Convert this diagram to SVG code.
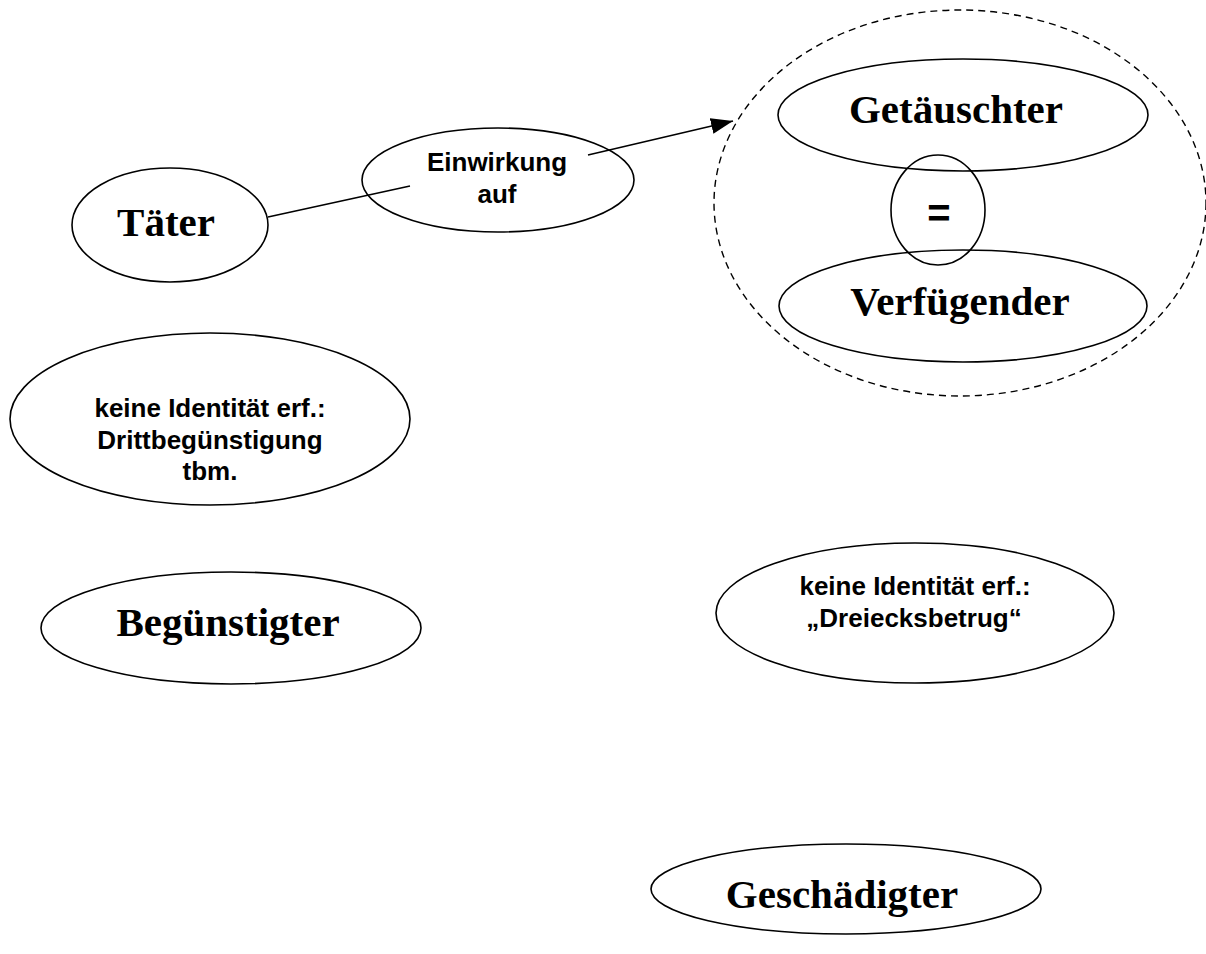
<svg xmlns="http://www.w3.org/2000/svg" width="1206" height="954" viewBox="0 0 1206 954">
<defs>
<style>
.e{fill:none;stroke:#000;stroke-width:1.6}
.d{fill:none;stroke:#000;stroke-width:1.4;stroke-dasharray:7 5}
.big{font-family:"Liberation Serif","Times New Roman",serif;font-weight:bold;font-size:41px;text-anchor:middle;fill:#000}
.sm{font-family:"Liberation Sans",Arial,sans-serif;font-weight:bold;font-size:26px;text-anchor:middle;fill:#000}
.c{stroke:#000;stroke-width:1.6;fill:none}
</style>
<marker id="ah" markerWidth="22" markerHeight="16" refX="22" refY="8" orient="auto" markerUnits="userSpaceOnUse" viewBox="0 0 22 16"><path d="M0,0 L22,8 L0,16 z" fill="#000"/></marker>
</defs>
<rect width="1206" height="954" fill="#fff"/>
<g id="connectors">
<line class="c" x1="268" y1="217" x2="410" y2="186"/>
<line class="c" x1="588" y1="155" x2="733" y2="121" marker-end="url(#ah)"/>
</g>
<g id="gruppe">
<ellipse class="d" cx="960" cy="203" rx="246" ry="193"/>
</g>
<g id="taeter">
<ellipse class="e" cx="170" cy="225" rx="98" ry="57"/>
<text class="big" x="166" y="236">Täter</text>
</g>
<g id="einwirkung">
<ellipse class="e" cx="498" cy="180" rx="136" ry="52"/>
<text class="sm" x="497" y="171">Einwirkung</text>
<text class="sm" x="497" y="203">auf</text>
</g>
<g id="getaeuschter">
<ellipse class="e" cx="963" cy="115" rx="185" ry="56"/>
<text class="big" x="956" y="123">Getäuschter</text>
</g>
<g id="gleich">
<ellipse class="e" cx="938" cy="210" rx="47" ry="55"/>
<text class="sm" x="939" y="227" style="font-size:40px">=</text>
</g>
<g id="verfuegender">
<ellipse class="e" cx="963" cy="306" rx="184" ry="56"/>
<text class="big" x="960" y="315">Verfügender</text>
</g>
<g id="drittbeguenstigung">
<ellipse class="e" cx="210" cy="419" rx="200" ry="86"/>
<text class="sm" x="210" y="417">keine Identität erf.:</text>
<text class="sm" x="210" y="449">Drittbegünstigung</text>
<text class="sm" x="210" y="480">tbm.</text>
</g>
<g id="beguenstigter">
<ellipse class="e" cx="231" cy="628" rx="190" ry="56"/>
<text class="big" x="228" y="636">Begünstigter</text>
</g>
<g id="dreiecksbetrug">
<ellipse class="e" cx="915" cy="613" rx="199" ry="70"/>
<text class="sm" x="915" y="595">keine Identität erf.:</text>
<text class="sm" x="914" y="627">„Dreiecksbetrug“</text>
</g>
<g id="geschaedigter">
<ellipse class="e" cx="846" cy="889" rx="195" ry="45"/>
<text class="big" x="842" y="908">Geschädigter</text>
</g>
</svg>
